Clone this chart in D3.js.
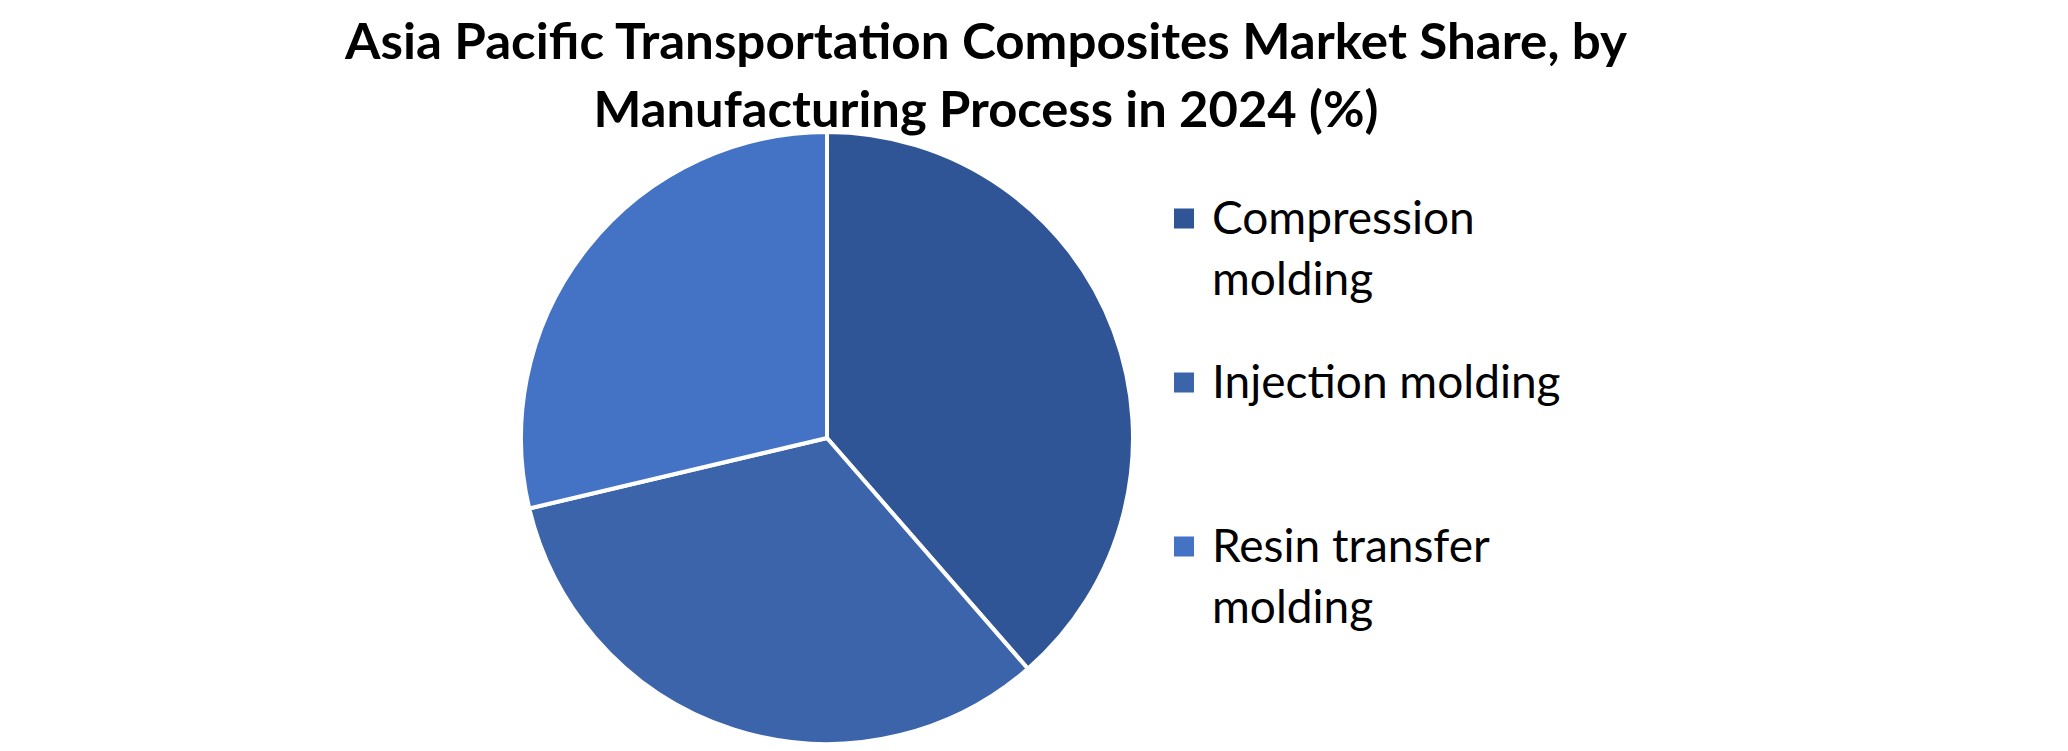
<!DOCTYPE html>
<html>
<head>
<meta charset="utf-8">
<script src="https://cdn.jsdelivr.net/npm/d3@7"></script>
<style>
  html, body { margin: 0; padding: 0; background: #fff; }
  svg { display: block; }
</style>
</head>
<body>
<div id="chart"></div>
<script>
const categories = ["Compression molding", "Injection molding", "Resin transfer molding"];
const shares = [38.6, 32.7, 28.7];
const sliceColors = ["#2F5597", "#3C64AA", "#4472C4"];
const titleLines = [
    "Asia Pacific Transportation Composites Market Share, by",
    "Manufacturing Process in 2024 (%)"
];

const width = 2068;
const height = 751;
const fontFamily = "Lato, 'Open Sans', sans-serif";

const svg = d3.select("#chart")
    .append("svg")
    .attr("width", width)
    .attr("height", height);

// title, two centred lines
const titleWidths = [1282, 785];
svg.selectAll("text.title")
    .data(titleLines)
    .enter()
    .append("text")
    .attr("class", "title")
    .attr("x", 986)
    .attr("y", (d, i) => 59 + i * 68)
    .attr("text-anchor", "middle")
    .attr("font-family", fontFamily)
    .attr("font-weight", "bold")
    .attr("font-size", 49)
    .attr("fill", "#000")
    .attr("textLength", (d, i) => titleWidths[i])
    .attr("lengthAdjust", "spacingAndGlyphs")
    .text(d => d);

// pie
const radius = 306;
const pie = d3.pie().sort(null).value(d => d);
const arc = d3.arc().innerRadius(0).outerRadius(radius);
const color = d3.scaleOrdinal().domain(categories).range(sliceColors);

const pieGroup = svg.append("g")
    .attr("transform", "translate(827,438)");

pieGroup.selectAll("path.slice")
    .data(pie(shares))
    .enter()
    .append("path")
    .attr("class", "slice")
    .attr("d", arc)
    .attr("fill", (d, i) => color(categories[i]))
    .attr("stroke", "#fff")
    .attr("stroke-width", 4)
    .attr("stroke-linejoin", "round");

// legend
const legendY = d3.scalePoint()
    .domain(categories)
    .range([218.5, 546.5]);

const legend = svg.selectAll("g.legend")
    .data(categories)
    .enter()
    .append("g")
    .attr("class", "legend")
    .attr("transform", d => `translate(1174,${legendY(d)})`);

legend.append("rect")
    .attr("x", 0)
    .attr("y", -10)
    .attr("width", 20)
    .attr("height", 20)
    .attr("fill", d => color(d));

const legendFontSize = 46;
const maxLineWidth = 400;

legend.each(function(d) {
    const g = d3.select(this);
    const words = d.split(" ");
    const text = g.append("text")
        .attr("x", 38)
        .attr("y", 15)
        .attr("font-family", fontFamily)
        .attr("font-size", legendFontSize)
        .attr("fill", "#000");
    let line = [];
    let tspan = text.append("tspan").attr("x", 38).attr("dy", 0);
    words.forEach(w => {
        line.push(w);
        tspan.text(line.join(" "));
        if (tspan.node().getComputedTextLength() > maxLineWidth && line.length > 1) {
            line.pop();
            tspan.text(line.join(" "));
            line = [w];
            tspan = text.append("tspan").attr("x", 38).attr("dy", 61).text(w);
        }
    });
});
</script>
</body>
</html>
